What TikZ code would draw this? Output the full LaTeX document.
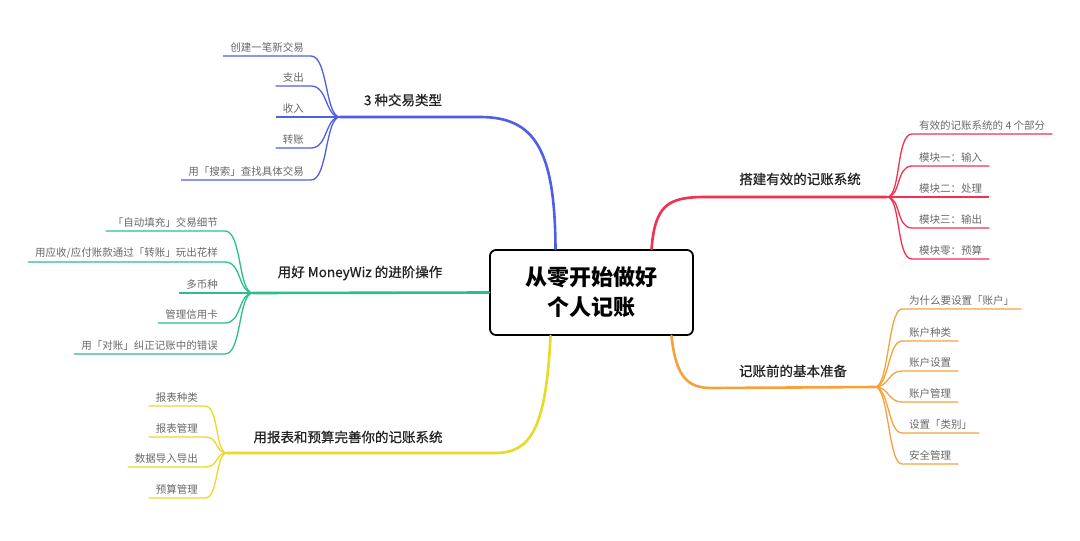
\documentclass[tikz,border=0pt]{standalone}
\usepackage{fontspec}
\setmainfont{Noto Sans CJK SC}
\newfontfamily\medfont{Noto Sans CJK SC}[FakeBold=0.7]
\usetikzlibrary{calc}
\definecolor{cB}{RGB}{78,94,230}
\definecolor{cG}{RGB}{44,190,140}
\definecolor{cY}{RGB}{232,218,40}
\definecolor{cR}{RGB}{240,50,80}
\definecolor{cO}{RGB}{245,162,60}
\definecolor{leaftext}{RGB}{105,105,105}
\definecolor{maintext}{RGB}{35,35,35}
\begin{document}
\begin{tikzpicture}[x=1pt,y=-1pt,
  leaf/.style={font=\fontsize{10.5}{12}\selectfont, text=leaftext, inner xsep=7pt, inner ysep=3.5pt},
  mainlabel/.style={font=\fontsize{13.5}{16}\selectfont\medfont, text=maintext},
  lk/.style={line width=1.3pt},
  mb/.style={line width=2.6pt, line cap=round},
]
\useasboundingbox (0,0) rectangle (1080,541);
\fill[white] (0,0) rectangle (1080,541);

% hubs
\coordinate (hB) at (340,117);
\coordinate (hG) at (253,293);
\coordinate (hY) at (227,453);
\coordinate (hR) at (887,197);
\coordinate (hO) at (875,387);

% root
\node[draw=black, line width=1.8pt, rounded corners=6pt, minimum width=203pt, minimum height=85pt,
      align=center, font=\fontsize{22}{30}\selectfont\bfseries, fill=white, inner sep=0pt] (root) at (591.5,292.5) {从零开始做好\\个人记账};

% main branches
\coordinate (kB) at (480,117);
\coordinate (kR) at (705,197);
\coordinate (kO) at (712,388);
\coordinate (kY) at (495,453);
\draw[mb, cB] ($(root.north)+(-36,0)$) .. controls (555,150) and (535,117) .. (kB) -- (hB);
\draw[mb, cR] ($(root.north)+(60,0)$) .. controls (655,205) and (668,197) .. (kR) -- (hR);
\draw[mb, cO] ($(root.south)+(80,0)$) .. controls (676,378) and (688,388) .. (kO) -- (hO);
\draw[mb, cY] ($(root.south)+(-41,0)$) .. controls (546,430) and (530,453) .. (kY) -- (hY);
\draw[mb, cG] (root.west) -- (hG);

\node[mainlabel] (lB) at (403,100) {3 种交易类型};
\node[mainlabel] (lG) at (360,273) {用好 MoneyWiz 的进阶操作};
\node[mainlabel] (lY) at (348,437) {用报表和预算完善你的记账系统};
\node[mainlabel] (lR) at (800,179) {搭建有效的记账系统};
\node[mainlabel] (lO) at (793,371) {记账前的基本准备};

% blue leaves
\node[leaf, anchor=south east] (b1) at (311,56) {创建一笔新交易};
\node[leaf, anchor=south east] (b2) at (311,86) {支出};
\node[leaf, anchor=south east] (b3) at (311,117) {收入};
\node[leaf, anchor=south east] (b4) at (311,148) {转账};
\node[leaf, anchor=south east] (b5) at (311,180) {用「搜索」查找具体交易};
\foreach \n in {b1,b2,b4,b5}
  \draw[lk, cB] (\n.south west) -- (\n.south east) .. controls +(17,0) and +(-15,0) .. (hB);
\draw[lk, cB] (b3.south west) -- (hB);

% green leaves
\node[leaf, anchor=south east] (g1) at (225,231) {「自动填充」交易细节};
\node[leaf, anchor=south east] (g2) at (225,262) {用应收/应付账款通过「转账」玩出花样};
\node[leaf, anchor=south east] (g3) at (225,293) {多币种};
\node[leaf, anchor=south east] (g4) at (225,323) {管理信用卡};
\node[leaf, anchor=south east] (g5) at (225,354) {用「对账」纠正记账中的错误};
\foreach \n in {g1,g2,g4,g5}
  \draw[lk, cG] (\n.south west) -- (\n.south east) .. controls +(17,0) and +(-15,0) .. (hG);
\draw[lk, cG] (g3.south west) -- (hG);

% yellow leaves
\node[leaf, anchor=south east] (y1) at (205,406) {报表种类};
\node[leaf, anchor=south east] (y2) at (205,437) {报表管理};
\node[leaf, anchor=south east] (y3) at (205,467) {数据导入导出};
\node[leaf, anchor=south east] (y4) at (205,498) {预算管理};
\foreach \n in {y1,y2,y3,y4}
  \draw[lk, cY] (\n.south west) -- (\n.south east) .. controls +(14,0) and +(-12,0) .. (hY);

% red leaves
\node[leaf, anchor=south west] (r1) at (912,134) {有效的记账系统的 4 个部分};
\node[leaf, anchor=south west] (r2) at (912,166) {模块一：输入};
\node[leaf, anchor=south west] (r3) at (912,197) {模块二：处理};
\node[leaf, anchor=south west] (r4) at (912,228) {模块三：输出};
\node[leaf, anchor=south west] (r5) at (912,259) {模块零：预算};
\foreach \n in {r1,r2,r4,r5}
  \draw[lk, cR] (hR) .. controls +(14,0) and +(-16,0) .. (\n.south west) -- (\n.south east);
\draw[lk, cR] (hR) -- (r3.south east);

% orange leaves
\node[leaf, anchor=south west] (o1) at (902,309) {为什么要设置「账户」};
\node[leaf, anchor=south west] (o2) at (902,341) {账户种类};
\node[leaf, anchor=south west] (o3) at (902,371) {账户设置};
\node[leaf, anchor=south west] (o4) at (902,402) {账户管理};
\node[leaf, anchor=south west] (o5) at (902,433) {设置「类别」};
\node[leaf, anchor=south west] (o6) at (902,464) {安全管理};
\foreach \n in {o1,o2,o3,o4,o5,o6}
  \draw[lk, cO] (hO) .. controls +(14,0) and +(-14,0) .. (\n.south west) -- (\n.south east);
\end{tikzpicture}
\end{document}
